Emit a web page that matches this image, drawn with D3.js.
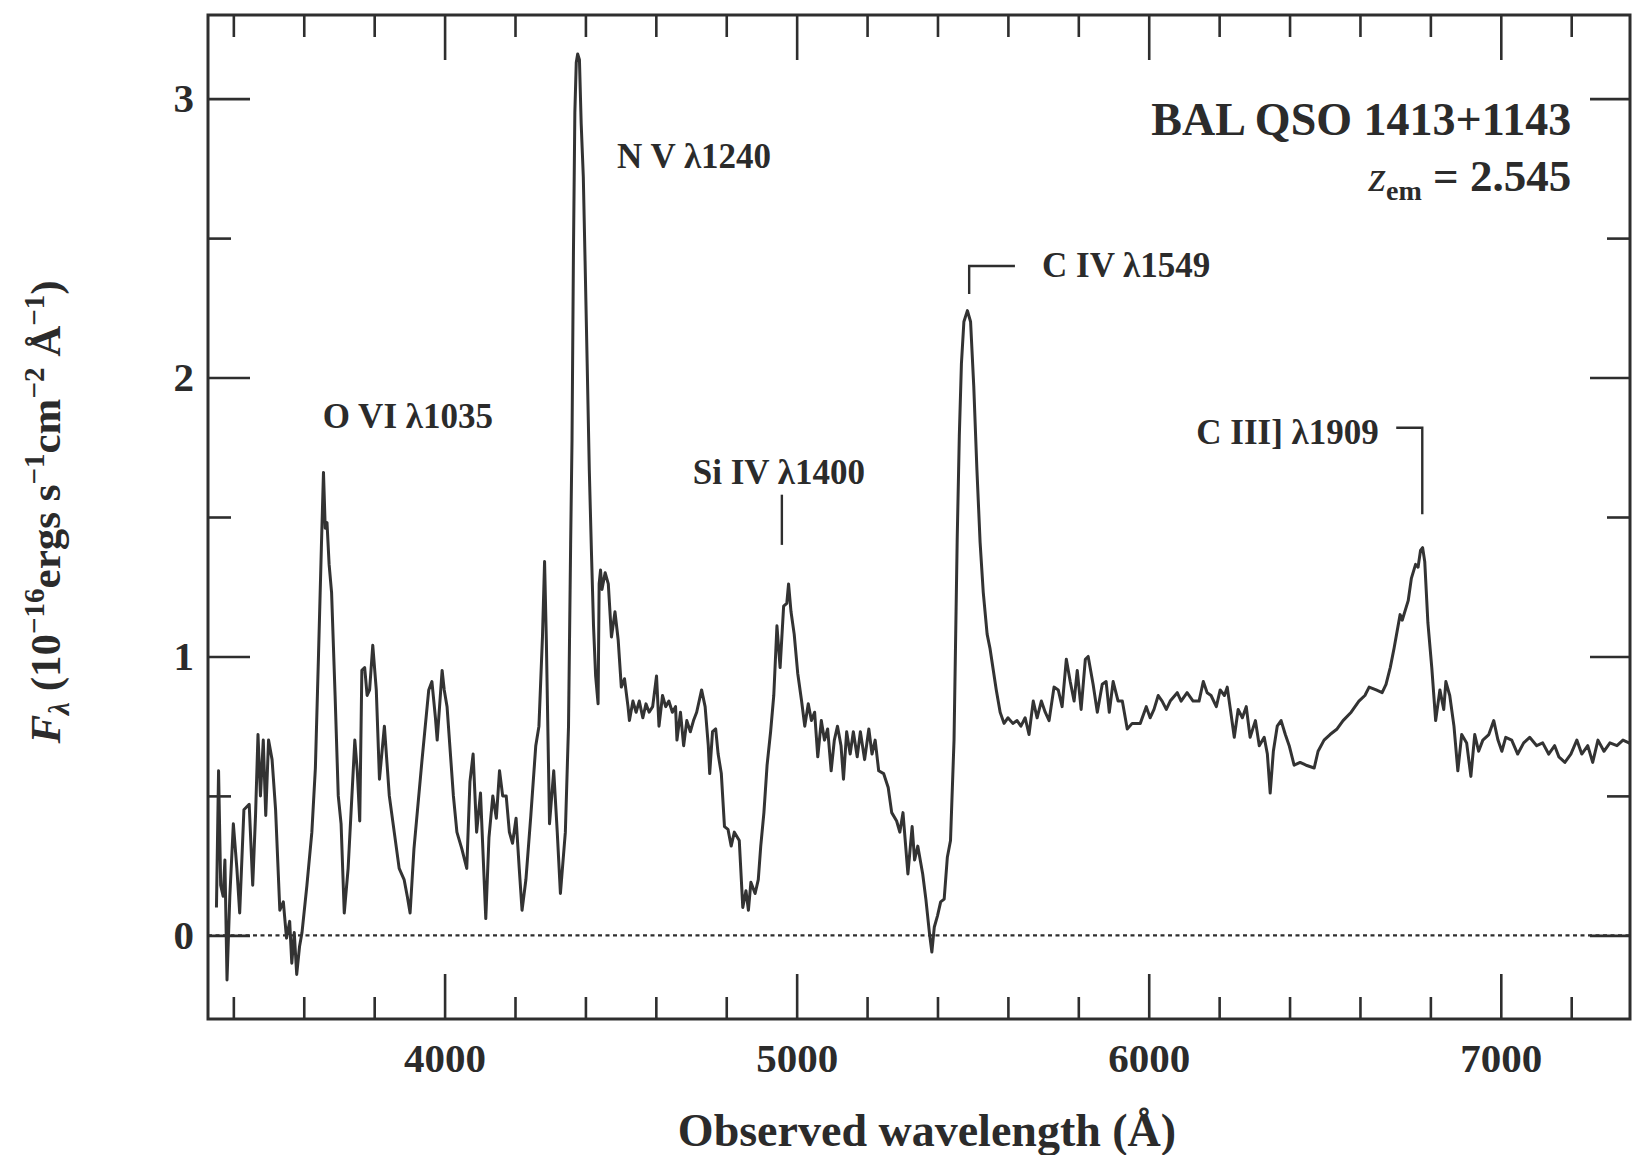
<!DOCTYPE html>
<html>
<head>
<meta charset="utf-8">
<script src="https://cdn.jsdelivr.net/npm/d3@7"></script>
<style>
  html, body { margin: 0; padding: 0; background: #fff; }
  svg text { font-family: "Liberation Serif", "Times New Roman", serif; font-weight: bold; fill: #2b2b2b; }
</style>
</head>
<body>
<div id="chart"></div>
<script>
// Observed-frame spectrum, [wavelength (Å), F_lambda (1e-16 erg/s/cm2/Å)]
const blueSide = [
  [3352,0.10],[3358,0.59],[3364,0.18],[3371,0.14],[3376,0.27],[3382,-0.16],[3390,0.14],[3400,0.40],
  [3410,0.24],[3418,0.08],[3430,0.45],[3445,0.47],[3455,0.18],[3463,0.43],[3470,0.72],[3477,0.50],
  [3485,0.70],[3492,0.43],[3500,0.70],[3510,0.63],[3520,0.45],[3532,0.09],[3542,0.12],[3551,-0.01],
  [3560,0.05],[3566,-0.10],[3573,0.01],[3580,-0.14],[3588,-0.04],[3595,0.01],[3609,0.18],[3623,0.37],
  [3633,0.60],[3642,1.01],[3650,1.39],[3656,1.66],[3661,1.46],[3666,1.48],[3672,1.33],[3679,1.23],
  [3689,0.86],[3698,0.50],[3706,0.40],[3715,0.08],[3726,0.24],[3745,0.70],[3752,0.59],[3759,0.41],
  [3765,0.95],[3773,0.96],[3780,0.86],[3787,0.88],[3796,1.04],[3806,0.88],[3815,0.56],[3829,0.75],
  [3843,0.50],[3857,0.37],[3871,0.24],[3885,0.20],[3894,0.14],[3902,0.08],[3913,0.31],[3936,0.63],
  [3955,0.88],[3964,0.91],[3974,0.78],[3979,0.70],[3993,0.95],[3999,0.88],[4007,0.82],[4025,0.50],
  [4035,0.37],[4049,0.31],[4063,0.24],[4072,0.55],[4081,0.65],[4091,0.37],[4102,0.51],[4117,0.06],
  [4126,0.35],[4137,0.50],[4147,0.42],[4156,0.59],[4165,0.50],[4175,0.50],[4184,0.37],[4193,0.33],
  [4203,0.42],[4212,0.24],[4220,0.09],[4231,0.20],[4245,0.43],[4259,0.68],[4268,0.75],[4278,1.07],
  [4284,1.34],[4289,1.06],[4298,0.40],[4310,0.59],[4320,0.37],[4329,0.15],[4343,0.37],[4352,0.75]
];

const nvSiivRegion = [
  [4358,1.40],[4362,1.78],[4366,2.45],[4370,2.95],[4374,3.13],[4378,3.16],[4383,3.14],[4388,2.91],
  [4394,2.72],[4399,2.42],[4405,2.05],[4411,1.67],[4417,1.38],[4423,1.11],[4429,0.93],[4436,0.83],
  [4439,1.26],[4443,1.31],[4447,1.24],[4456,1.30],[4465,1.26],[4474,1.07],[4484,1.16],[4493,1.06],
  [4502,0.89],[4511,0.92],[4521,0.82],[4525,0.77],[4535,0.84],[4544,0.80],[4553,0.84],[4563,0.78],
  [4572,0.83],[4581,0.80],[4591,0.82],[4602,0.93],[4609,0.75],[4619,0.86],[4628,0.82],[4637,0.84],
  [4647,0.80],[4656,0.82],[4660,0.70],[4670,0.80],[4679,0.68],[4688,0.77],[4698,0.73],[4707,0.77],
  [4716,0.80],[4730,0.88],[4740,0.82],[4749,0.68],[4753,0.58],[4761,0.73],[4770,0.74],[4777,0.65],
  [4786,0.58],[4795,0.39],[4805,0.38],[4814,0.32],[4823,0.37],[4837,0.34],[4847,0.10],[4856,0.16],
  [4863,0.09],[4870,0.19],[4882,0.15],[4891,0.20],[4898,0.32],[4907,0.44],[4916,0.61],[4926,0.73],
  [4935,0.86],[4944,1.11],[4953,0.96],[4963,1.18],[4972,1.19],[4977,1.26],[4984,1.16],[4993,1.08],
  [5003,0.94],[5014,0.84],[5023,0.75],[5033,0.83],[5042,0.77],[5051,0.80],[5060,0.64],[5070,0.77],
  [5079,0.70],[5088,0.74],[5098,0.59],[5107,0.70],[5116,0.75],[5126,0.68],[5133,0.56],[5142,0.73],
  [5152,0.65],[5161,0.73],[5172,0.64],[5181,0.73],[5193,0.63],[5205,0.74],[5214,0.65],[5223,0.70],
  [5233,0.59],[5247,0.58],[5260,0.53],[5270,0.44],[5284,0.41],[5293,0.37],[5302,0.44],[5316,0.22],
  [5328,0.39],[5335,0.27],[5344,0.32],[5358,0.22],[5367,0.13],[5377,0.01],[5384,-0.06],[5391,0.03],
  [5400,0.07],[5409,0.12],[5419,0.13],[5428,0.28],[5437,0.34],[5447,0.70]
];

const civRegion = [
  [5456,1.42],[5462,1.79],[5468,2.05],[5475,2.20],[5485,2.24],[5494,2.20],[5503,1.97],[5512,1.67],
  [5521,1.41],[5530,1.23],[5541,1.08],[5549,1.03],[5567,0.88],[5578,0.80],[5589,0.76],[5600,0.78],
  [5614,0.76],[5626,0.77],[5637,0.75],[5649,0.78],[5660,0.72],[5672,0.84],[5683,0.78],[5695,0.84],
  [5706,0.80],[5717,0.77],[5731,0.89],[5743,0.88],[5754,0.82],[5766,0.99],[5777,0.91],[5788,0.84],
  [5797,0.95],[5808,0.81],[5820,0.99],[5828,1.00],[5842,0.90],[5854,0.80],[5868,0.90],[5879,0.91],
  [5888,0.80],[5899,0.91],[5913,0.84],[5925,0.84],[5939,0.74],[5953,0.76],[5976,0.76],[5993,0.82],
  [6004,0.78],[6015,0.81],[6027,0.86],[6038,0.84],[6050,0.81],[6061,0.84],[6081,0.87],[6092,0.84],
  [6109,0.87],[6126,0.84],[6143,0.84],[6155,0.91],[6166,0.87],[6177,0.86],[6192,0.82],[6203,0.88],
  [6215,0.86],[6223,0.89],[6232,0.81],[6243,0.71],[6254,0.81],[6266,0.78],[6277,0.82],[6288,0.71],
  [6303,0.77],[6314,0.68],[6328,0.71],[6337,0.65],[6345,0.51],[6354,0.66],[6365,0.75],[6376,0.77],
  [6388,0.72],[6399,0.68],[6413,0.61],[6430,0.62],[6447,0.61],[6470,0.60]
];

const ciiiRegion = [
  [6481,0.66],[6498,0.70],[6515,0.72],[6535,0.74],[6552,0.77],[6575,0.80],[6597,0.84],[6614,0.86],
  [6626,0.89],[6646,0.88],[6663,0.87],[6674,0.90],[6686,0.96],[6697,1.03],[6714,1.15],[6720,1.13],
  [6737,1.20],[6746,1.28],[6758,1.33],[6765,1.32],[6772,1.38],[6778,1.39],[6784,1.34],[6793,1.12],
  [6804,0.96],[6815,0.77],[6827,0.88],[6838,0.81],[6844,0.91],[6855,0.86],[6867,0.75],[6878,0.59],
  [6889,0.72],[6903,0.69],[6915,0.57],[6926,0.72],[6937,0.66],[6949,0.70],[6966,0.72],[6980,0.77],
  [6992,0.70],[7003,0.66],[7014,0.71],[7031,0.70],[7048,0.65],[7065,0.69],[7082,0.71],[7102,0.68],
  [7119,0.69],[7136,0.65],[7153,0.68],[7165,0.64],[7182,0.62],[7199,0.65],[7216,0.70],[7230,0.65],
  [7247,0.68],[7261,0.62],[7276,0.70],[7293,0.66],[7310,0.69],[7330,0.68],[7347,0.70],[7364,0.69],
  [7374,0.68]
];

const xMajorTicks = [4000, 5000, 6000, 7000];
const xMinorTicks = [3400, 3600, 3800, 4200, 4400, 4600, 4800, 5200, 5400, 5600, 5800, 6200, 6400, 6600, 6800, 7200];
const yMajorTicks = [0, 1, 2, 3];
const yMinorTicks = [0.5, 1.5, 2.5];

// emission-line labels, anchored in data units
const lineLabels = [
  { text: "O VI λ1035", wl: 3654, flux: 1.82 },
  { text: "N V λ1240", wl: 4490, flux: 2.75 },
  { text: "Si IV λ1400", wl: 4705, flux: 1.62 },
  { text: "C IV λ1549", wl: 5697, flux: 2.36 },
  { text: "C III] λ1909", wl: 6135, flux: 1.76 }
];
const lineMarkers = [
  [[4958, 1.58], [4958, 1.40]],
  [[5620, 2.40], [5490, 2.40], [5490, 2.30]],
  [[6703, 1.82], [6777, 1.82], [6777, 1.51]]
];

const width = 1633, height = 1155;
const margin = { top: 15, right: 3, bottom: 136, left: 208 };
const ink = "#2e2e2e";

const svg = d3.select("#chart").append("svg")
  .attr("width", width)
  .attr("height", height);

const x = d3.scaleLinear().domain([3328, 7367]).range([margin.left, width - margin.right]);
const y = d3.scaleLinear().domain([-0.30, 3.30]).range([height - margin.bottom, margin.top]);

const plotW = x.range()[1] - x.range()[0];
const plotH = y.range()[0] - y.range()[1];

svg.append("clipPath").attr("id", "plot-clip")
  .append("rect")
  .attr("x", margin.left).attr("y", margin.top)
  .attr("width", plotW).attr("height", plotH);

// zero level, dotted
svg.append("line")
  .attr("x1", x.range()[0]).attr("x2", x.range()[1])
  .attr("y1", y(0)).attr("y2", y(0))
  .attr("stroke", ink)
  .attr("stroke-width", 2.2)
  .attr("stroke-dasharray", "4,3.5");

// axes: majors + minors on all four sides, ticks pointing inward
function styleAxis(g) {
  g.select(".domain").remove();
  g.selectAll(".tick line").attr("stroke", ink).attr("stroke-width", 2.6);
  g.selectAll(".tick text")
    .attr("fill", ink)
    .style("font-family", "'Liberation Serif', serif")
    .style("font-weight", "bold")
    .style("font-size", "41px");
}

const bottomY = y.range()[0], topY = y.range()[1];

svg.append("g").attr("transform", `translate(0,${bottomY})`)
  .call(d3.axisBottom(x).tickValues(xMajorTicks).tickSize(-45).tickPadding(24).tickFormat(d3.format("d")))
  .call(styleAxis);
svg.append("g").attr("transform", `translate(0,${bottomY})`)
  .call(d3.axisBottom(x).tickValues(xMinorTicks).tickSize(-22).tickFormat(""))
  .call(styleAxis);
svg.append("g").attr("transform", `translate(0,${topY})`)
  .call(d3.axisTop(x).tickValues(xMajorTicks).tickSize(-45).tickFormat(""))
  .call(styleAxis);
svg.append("g").attr("transform", `translate(0,${topY})`)
  .call(d3.axisTop(x).tickValues(xMinorTicks).tickSize(-22).tickFormat(""))
  .call(styleAxis);

svg.append("g").attr("transform", `translate(${x.range()[0]},0)`)
  .call(d3.axisLeft(y).tickValues(yMajorTicks).tickSize(-42).tickPadding(14).tickFormat(d3.format("d")))
  .call(styleAxis);
svg.append("g").attr("transform", `translate(${x.range()[0]},0)`)
  .call(d3.axisLeft(y).tickValues(yMinorTicks).tickSize(-23).tickFormat(""))
  .call(styleAxis);
svg.append("g").attr("transform", `translate(${x.range()[1]},0)`)
  .call(d3.axisRight(y).tickValues(yMajorTicks).tickSize(-40).tickFormat(""))
  .call(styleAxis);
svg.append("g").attr("transform", `translate(${x.range()[1]},0)`)
  .call(d3.axisRight(y).tickValues(yMinorTicks).tickSize(-23).tickFormat(""))
  .call(styleAxis);

// frame
svg.append("rect")
  .attr("x", margin.left).attr("y", margin.top)
  .attr("width", plotW).attr("height", plotH)
  .attr("fill", "none")
  .attr("stroke", ink)
  .attr("stroke-width", 3);

// spectrum
const spectrum = blueSide.concat(nvSiivRegion, civRegion, ciiiRegion);
const line = d3.line()
  .x((d) => x(d[0]))
  .y((d) => y(d[1]));

svg.append("path")
  .datum(spectrum)
  .attr("clip-path", "url(#plot-clip)")
  .attr("d", line)
  .attr("fill", "none")
  .attr("stroke", "#333")
  .attr("stroke-width", 3)
  .attr("stroke-linejoin", "round");

// line identifications
svg.append("g")
  .selectAll("text")
  .data(lineLabels)
  .join("text")
  .attr("x", (d) => x(d.wl))
  .attr("y", (d) => y(d.flux))
  .style("font-size", "35px")
  .text((d) => d.text);

svg.append("g")
  .selectAll("path")
  .data(lineMarkers)
  .join("path")
  .attr("d", d3.line().x((d) => x(d[0])).y((d) => y(d[1])))
  .attr("fill", "none")
  .attr("stroke", ink)
  .attr("stroke-width", 2.4);

// object name and redshift
svg.append("text")
  .attr("x", x(7200)).attr("y", y(2.87))
  .attr("text-anchor", "end")
  .style("font-size", "46px")
  .text("BAL QSO 1413+1143");

const zText = svg.append("text")
  .attr("x", x(7200)).attr("y", y(2.67))
  .attr("text-anchor", "end")
  .style("font-size", "45px");
zText.append("tspan").style("font-style", "italic").style("font-weight", "normal").text("z");
zText.append("tspan").attr("dy", 9).style("font-size", "28px").text("em");
zText.append("tspan").attr("dy", -9).text(" = 2.545");

// axis titles
svg.append("text")
  .attr("x", (x.range()[0] + x.range()[1]) / 2 + 8)
  .attr("y", 1146)
  .attr("text-anchor", "middle")
  .style("font-size", "46px")
  .text("Observed wavelength (Å)");

const yTitle = svg.append("text")
  .attr("transform", "translate(60,512) rotate(-90)")
  .attr("text-anchor", "middle")
  .style("font-size", "43px");
yTitle.append("tspan").style("font-style", "italic").text("F");
yTitle.append("tspan").attr("dy", 9).style("font-size", "29px").style("font-style", "italic").text("λ");
yTitle.append("tspan").attr("dy", -9).text(" (10");
yTitle.append("tspan").attr("dy", -16).style("font-size", "29px").text("−16");
yTitle.append("tspan").attr("dy", 16).text("ergs s");
yTitle.append("tspan").attr("dy", -16).style("font-size", "29px").text("−1");
yTitle.append("tspan").attr("dy", 16).text("cm");
yTitle.append("tspan").attr("dy", -16).style("font-size", "29px").text("−2");
yTitle.append("tspan").attr("dy", 16).text(" Å");
yTitle.append("tspan").attr("dy", -16).style("font-size", "29px").text("−1");
yTitle.append("tspan").attr("dy", 16).text(")");
</script>
</body>
</html>
